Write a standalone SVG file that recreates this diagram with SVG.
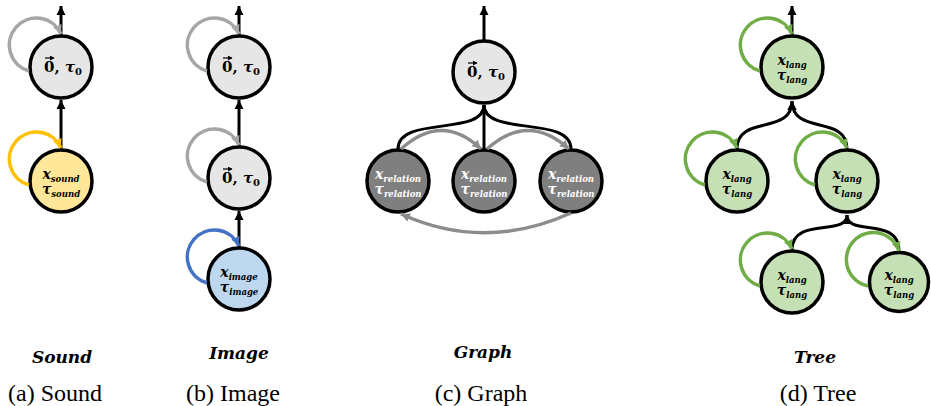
<svg xmlns="http://www.w3.org/2000/svg" width="931" height="406" viewBox="0 0 931 406">
  <style>
    .node { stroke: #000; stroke-width: 3.5; }
    .n-gray { fill: #e6e6e6; }
    .n-dark { fill: #7f7f7f; }
    .n-yellow { fill: #ffe699; }
    .n-blue { fill: #bdd7ee; }
    .n-green { fill: #c5e0b4; }
    .t { font-family: "DejaVu Serif", "Liberation Serif", serif; font-weight: bold; font-size: 14px; fill: #000; }
    .z { font-size: 15px; }
    .t-white { fill: #fff; }
    .it { font-style: italic; }
    .sub { font-size: 8.5px; font-style: italic; }
    .sub0 { font-size: 10px; }
    .vec { fill: none; stroke: #000; stroke-width: 1.2; }
    .edge { fill: none; stroke: #000; stroke-width: 3; }
    .loop { fill: none; stroke-width: 3.5; }
    .l-gray { stroke: #a6a6a6; }
    .l-yellow { stroke: #ffc000; }
    .l-blue { stroke: #4472c4; }
    .l-green { stroke: #70ad47; }
    .g-edge { fill: none; stroke: #8c8c8c; stroke-width: 3.5; }
    .label { font-family: "DejaVu Serif", "Liberation Serif", serif; font-weight: bold; font-style: italic; font-size: 17px; text-anchor: middle; }
    .caption { font-family: "Liberation Serif", "Times New Roman", serif; font-size: 24px; text-anchor: middle; }
  </style>
  <defs>
    <marker id="ah-black" markerUnits="userSpaceOnUse" markerWidth="10" markerHeight="10" refX="9" refY="5" orient="auto"><path d="M0,0.5 L9,5 L0,9.5 z" fill="#000"/></marker>
    <marker id="ah-gray" markerUnits="userSpaceOnUse" markerWidth="10" markerHeight="10" refX="9" refY="5" orient="auto"><path d="M0,0.5 L9,5 L0,9.5 z" fill="#a6a6a6"/></marker>
    <marker id="ah-yellow" markerUnits="userSpaceOnUse" markerWidth="10" markerHeight="10" refX="9" refY="5" orient="auto"><path d="M0,0.5 L9,5 L0,9.5 z" fill="#ffc000"/></marker>
    <marker id="ah-blue" markerUnits="userSpaceOnUse" markerWidth="10" markerHeight="10" refX="9" refY="5" orient="auto"><path d="M0,0.5 L9,5 L0,9.5 z" fill="#4472c4"/></marker>
    <marker id="ah-green" markerUnits="userSpaceOnUse" markerWidth="10" markerHeight="10" refX="9" refY="5" orient="auto"><path d="M0,0.5 L9,5 L0,9.5 z" fill="#70ad47"/></marker>
    <marker id="ah-mid" markerUnits="userSpaceOnUse" markerWidth="10" markerHeight="10" refX="9" refY="5" orient="auto"><path d="M0,0.5 L9,5 L0,9.5 z" fill="#8c8c8c"/></marker>
    <!-- small head for the vector accent over the zero -->
    <marker id="ah-vec" markerUnits="userSpaceOnUse" markerWidth="5" markerHeight="5" refX="4" refY="2.5" orient="auto"><path d="M0,0 L4.5,2.5 L0,5 z" fill="#000"/></marker>
  </defs>

  <!-- (a) Sound -->
  <g id="sound-top">
    <circle class="node n-gray" cx="61" cy="67" r="31"/>
    <text class="t z" x="44" y="72">0, <tspan class="it">τ</tspan><tspan class="sub0" dy="3">0</tspan></text>
    <path class="vec" d="M45,58 L54,58" marker-end="url(#ah-vec)"/>
  </g>
  <g id="sound-input">
    <circle class="node n-yellow" cx="61" cy="181" r="31"/>
    <text class="t" x="61" y="179" text-anchor="middle"><tspan class="it">x</tspan><tspan class="sub" dy="3">sound</tspan></text>
    <text class="t" x="61" y="194" text-anchor="middle"><tspan class="it">τ</tspan><tspan class="sub" dy="3">sound</tspan></text>
  </g>

  <!-- (b) Image -->
  <g id="image-top">
    <circle class="node n-gray" cx="239" cy="67" r="31"/>
    <text class="t z" x="222" y="72">0, <tspan class="it">τ</tspan><tspan class="sub0" dy="3">0</tspan></text>
    <path class="vec" d="M223,58 L232,58" marker-end="url(#ah-vec)"/>
  </g>
  <g id="image-mid">
    <circle class="node n-gray" cx="239" cy="178" r="31"/>
    <text class="t z" x="222" y="183">0, <tspan class="it">τ</tspan><tspan class="sub0" dy="3">0</tspan></text>
    <path class="vec" d="M223,169 L232,169" marker-end="url(#ah-vec)"/>
  </g>
  <g id="image-input">
    <circle class="node n-blue" cx="239" cy="279" r="31"/>
    <text class="t" x="239" y="277" text-anchor="middle"><tspan class="it">x</tspan><tspan class="sub" dy="3">image</tspan></text>
    <text class="t" x="239" y="292" text-anchor="middle"><tspan class="it">τ</tspan><tspan class="sub" dy="3">image</tspan></text>
  </g>

  <!-- (c) Graph -->
  <g id="graph-top">
    <circle class="node n-gray" cx="484" cy="72" r="31"/>
    <text class="t z" x="467" y="77">0, <tspan class="it">τ</tspan><tspan class="sub0" dy="3">0</tspan></text>
    <path class="vec" d="M468,63 L477,63" marker-end="url(#ah-vec)"/>
  </g>
  <g id="graph-left">
    <circle class="node n-dark" cx="398" cy="181" r="31"/>
    <text class="t t-white" x="398" y="179" text-anchor="middle"><tspan class="it">x</tspan><tspan class="sub" dy="3">relation</tspan></text>
    <text class="t t-white" x="398" y="194" text-anchor="middle"><tspan class="it">τ</tspan><tspan class="sub" dy="3">relation</tspan></text>
  </g>
  <g id="graph-mid">
    <circle class="node n-dark" cx="484" cy="181" r="31"/>
    <text class="t t-white" x="484" y="179" text-anchor="middle"><tspan class="it">x</tspan><tspan class="sub" dy="3">relation</tspan></text>
    <text class="t t-white" x="484" y="194" text-anchor="middle"><tspan class="it">τ</tspan><tspan class="sub" dy="3">relation</tspan></text>
  </g>
  <g id="graph-right">
    <circle class="node n-dark" cx="571" cy="181" r="31"/>
    <text class="t t-white" x="571" y="179" text-anchor="middle"><tspan class="it">x</tspan><tspan class="sub" dy="3">relation</tspan></text>
    <text class="t t-white" x="571" y="194" text-anchor="middle"><tspan class="it">τ</tspan><tspan class="sub" dy="3">relation</tspan></text>
  </g>

  <!-- (d) Tree -->
  <g id="tree-root">
    <circle class="node n-green" cx="792" cy="67" r="31"/>
    <text class="t" x="792" y="65" text-anchor="middle"><tspan class="it">x</tspan><tspan class="sub" dy="3">lang</tspan></text>
    <text class="t" x="792" y="80" text-anchor="middle"><tspan class="it">τ</tspan><tspan class="sub" dy="3">lang</tspan></text>
  </g>
  <g id="tree-left">
    <circle class="node n-green" cx="737" cy="181" r="31"/>
    <text class="t" x="737" y="179" text-anchor="middle"><tspan class="it">x</tspan><tspan class="sub" dy="3">lang</tspan></text>
    <text class="t" x="737" y="194" text-anchor="middle"><tspan class="it">τ</tspan><tspan class="sub" dy="3">lang</tspan></text>
  </g>
  <g id="tree-right">
    <circle class="node n-green" cx="847" cy="181" r="31"/>
    <text class="t" x="847" y="179" text-anchor="middle"><tspan class="it">x</tspan><tspan class="sub" dy="3">lang</tspan></text>
    <text class="t" x="847" y="194" text-anchor="middle"><tspan class="it">τ</tspan><tspan class="sub" dy="3">lang</tspan></text>
  </g>
  <g id="tree-right-left">
    <circle class="node n-green" cx="792" cy="282" r="31"/>
    <text class="t" x="792" y="280" text-anchor="middle"><tspan class="it">x</tspan><tspan class="sub" dy="3">lang</tspan></text>
    <text class="t" x="792" y="295" text-anchor="middle"><tspan class="it">τ</tspan><tspan class="sub" dy="3">lang</tspan></text>
  </g>
  <g id="tree-right-right">
    <circle class="node n-green" cx="899" cy="282" r="29.5"/>
    <text class="t" x="899" y="280" text-anchor="middle"><tspan class="it">x</tspan><tspan class="sub" dy="3">lang</tspan></text>
    <text class="t" x="899" y="295" text-anchor="middle"><tspan class="it">τ</tspan><tspan class="sub" dy="3">lang</tspan></text>
  </g>

  <!-- connectors -->
  <g id="connectors">
    <!-- sound -->
    <path class="edge" d="M61,35 L61,6" marker-end="url(#ah-black)"/>
    <path class="edge" d="M61,149 L61,100" marker-end="url(#ah-black)"/>
    <path class="loop l-gray" d="M29,71 A27,27 0 1 1 61,34" marker-end="url(#ah-gray)"/>
    <path class="loop l-yellow" d="M29,185 A27,27 0 1 1 61,148" marker-end="url(#ah-yellow)"/>
    <!-- image -->
    <path class="edge" d="M239,35 L239,6" marker-end="url(#ah-black)"/>
    <path class="edge" d="M239,146 L239,100" marker-end="url(#ah-black)"/>
    <path class="edge" d="M239,247 L239,211" marker-end="url(#ah-black)"/>
    <path class="loop l-gray" d="M207,71 A27,27 0 1 1 239,34" marker-end="url(#ah-gray)"/>
    <path class="loop l-gray" d="M207,182 A27,27 0 1 1 239,145" marker-end="url(#ah-gray)"/>
    <path class="loop l-blue" d="M207,283 A27,27 0 1 1 239,246" marker-end="url(#ah-blue)"/>
    <!-- graph -->
    <path class="edge" d="M484,40 L484,6" marker-end="url(#ah-black)"/>
    <path class="edge" d="M398,149 C398,115 484,137 484,105"/>
    <path class="edge" d="M571,149 C571,115 484,137 484,105"/>
    <path class="edge" d="M484,149 L484,105" marker-end="url(#ah-black)"/>
    <path class="g-edge" d="M401,149 Q442,112 481,149" marker-end="url(#ah-mid)"/>
    <path class="g-edge" d="M487,149 Q528,112 569,149" marker-end="url(#ah-mid)"/>
    <path class="g-edge" d="M571,213 Q485,252 401,214" marker-end="url(#ah-mid)"/>
    <!-- tree -->
    <path class="edge" d="M792,35 L792,6" marker-end="url(#ah-black)"/>
    <path class="edge" d="M737,149 C737,114 792,136 792,101" marker-end="url(#ah-black)"/>
    <path class="edge" d="M847,149 C847,114 792,136 792,101" marker-end="url(#ah-black)"/>
    <path class="edge" d="M792,250 C792,216 847,237 847,215" marker-end="url(#ah-black)"/>
    <path class="edge" d="M899,251 C899,216 847,237 847,215" marker-end="url(#ah-black)"/>
    <path class="loop l-green" d="M760,71 A27,27 0 1 1 792,34" marker-end="url(#ah-green)"/>
    <path class="loop l-green" d="M705,185 A27,27 0 1 1 737,148" marker-end="url(#ah-green)"/>
    <path class="loop l-green" d="M815,185 A27,27 0 1 1 847,148" marker-end="url(#ah-green)"/>
    <path class="loop l-green" d="M760,286 A27,27 0 1 1 792,249" marker-end="url(#ah-green)"/>
    <path class="loop l-green" d="M868,286 A27,27 0 1 1 899,251" marker-end="url(#ah-green)"/>
  </g>

  <!-- panel labels -->
  <text class="label" x="62" y="363">Sound</text>
  <text class="label" x="239" y="359">Image</text>
  <text class="label" x="483" y="358">Graph</text>
  <text class="label" x="815" y="363">Tree</text>

  <!-- captions -->
  <text class="caption" x="55" y="401">(a) Sound</text>
  <text class="caption" x="233" y="401">(b) Image</text>
  <text class="caption" x="481" y="401">(c) Graph</text>
  <text class="caption" x="818" y="401">(d) Tree</text>
</svg>
